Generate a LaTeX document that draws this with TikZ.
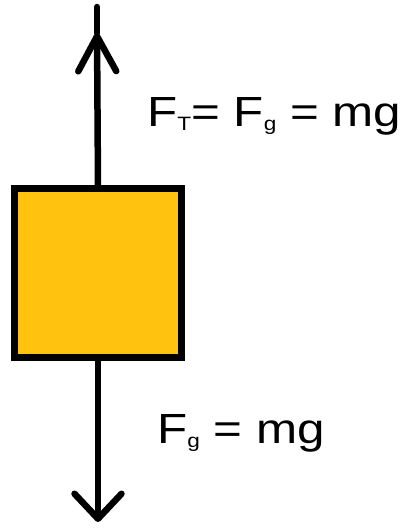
\documentclass[tikz,border=0pt]{standalone}
\usepackage{fontspec}
\setmainfont{Liberation Sans}
\newfontfamily\labelfont[FakeStretch=1.17]{Liberation Sans}
\usepackage{xcolor}
\usetikzlibrary{arrows.meta,positioning}
\definecolor{massyellow}{RGB}{255,195,15}
\newcommand{\forcesub}[1]{\raisebox{-2.5pt}{\fontsize{11}{13}\selectfont #1}}

\begin{document}
\begin{tikzpicture}[x=0.02cm,y=-0.02cm]
\useasboundingbox (0,0) rectangle (410,529);
\tikzset{force/.style={line width=0.13cm,line cap=round,line join=round},
  label/.style={anchor=base west,inner sep=0pt,font=\labelfont\fontsize{24}{28}\selectfont}}
\node[draw,line width=0.13cm,fill=massyellow,minimum width=3.34cm,minimum height=3.38cm,inner sep=0pt] (mass) at (98,273) {};
\coordinate (uptip) at (97,33);
\coordinate (uptop) at (97,7);
\coordinate (downtip) at (98,522);

\draw[force,-{Straight Barb[length=0.7cm,width=0.76cm,round]}] (mass.north) -- (uptip);
\draw[force] (uptip) -- (uptop);
\draw[force,-{Straight Barb[length=0.5cm,width=0.94cm,round]}] (mass.south) -- (downtip);

\node[label] (tension) at (147,126) {F\forcesub{T}= F\forcesub{g} = mg};
\node[label] (weight) at (157,443) {F\forcesub{g} = mg};
\end{tikzpicture}
\end{document}
